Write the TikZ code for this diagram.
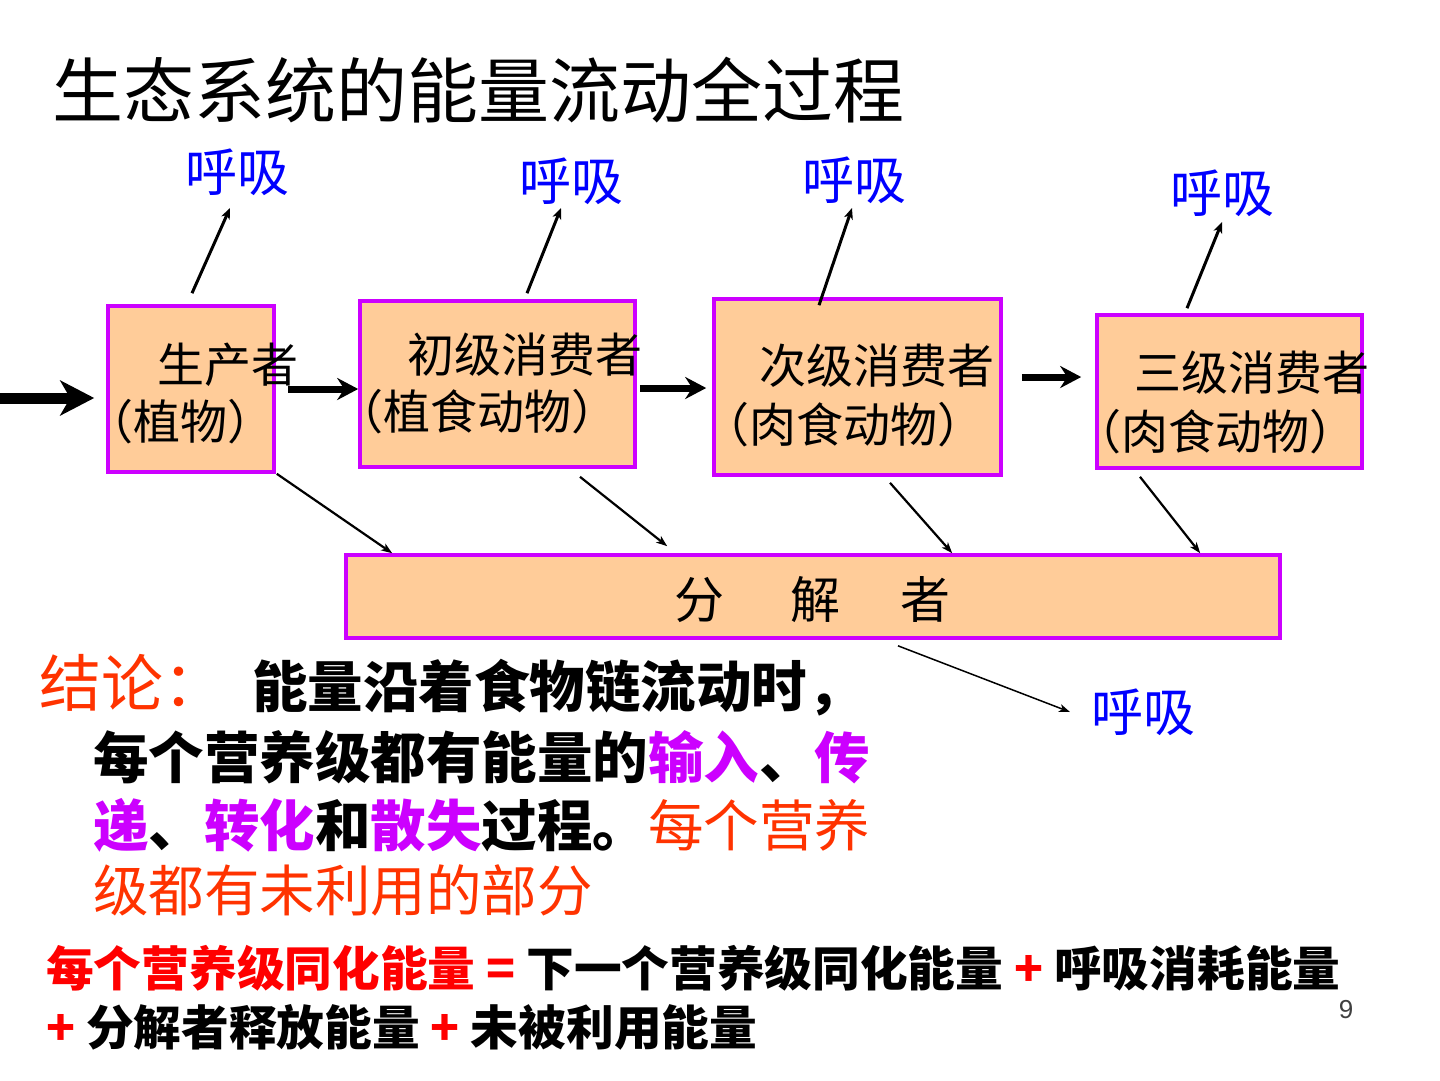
\documentclass[tikz,border=0pt]{standalone}
\usepackage{fontspec}
\setmainfont{Noto Sans CJK SC}
\newfontfamily\latinfont{Liberation Sans}
\usetikzlibrary{arrows.meta,calc}
\definecolor{peach}{RGB}{255,204,153}
\definecolor{boxedge}{RGB}{204,0,255}
\definecolor{pv}{RGB}{204,0,255}
\definecolor{orred}{RGB}{255,51,0}
\definecolor{respblue}{RGB}{0,0,255}
\definecolor{eqred}{RGB}{255,0,0}
\newcommand{\fsz}[1]{\fontsize{#1pt}{#1pt}\selectfont}
\begin{document}
\begin{tikzpicture}[x=1pt,y=-1pt,
  box/.style={draw=boxedge,fill=peach,line width=3.6pt,inner sep=0pt},
  boxtxt/.style={inner sep=0pt,anchor=west,font=\fsz{47}},
  resp/.style={inner sep=0pt,text=respblue,font=\fsz{52}},
  bigarrow/.style={line width=11pt,-{Stealth[length=34pt,width=35pt,inset=10pt]}},
  midarrow/.style={line width=7pt,-{Stealth[length=21pt,width=22pt,inset=7pt]}},
  uparrow/.style={line width=3pt,-{Stealth[length=11pt,width=9pt,inset=3pt]}},
  downarrow/.style={line width=2.2pt,-{Stealth[length=11pt,width=8pt,inset=3pt]}},
  ctext/.style={inner sep=0pt,anchor=west,font=\fsz{55.5}},
  btext/.style={inner sep=0pt,anchor=west,font=\fsz{47.7}\bfseries}]
\useasboundingbox (0,0) rectangle (1440,1080);

% title
\node[inner sep=0pt,anchor=west,font=\fsz{71}] (title) at (52,90) {生态系统的能量流动全过程};

% boxes
\node[box,minimum width=166pt,minimum height=166pt] (b1) at (191,389) {};
\node[box,minimum width=275pt,minimum height=166pt] (b2) at (497.5,384) {};
\node[box,minimum width=287pt,minimum height=176pt] (b3) at (857.5,387) {};
\node[box,minimum width=265pt,minimum height=153pt] (b4) at (1229.5,391.5) {};
\node[box,minimum width=934pt,minimum height=83pt] (dec) at (813,596.5) {};

% box texts
\node[boxtxt] (t1a) at (157,365) {生产者};
\node[boxtxt] (t1b) at (86,422) {（植物）};
\node[boxtxt] (t2a) at (407,355) {初级消费者};
\node[boxtxt] (t2b) at (336,412) {（植食动物）};
\node[boxtxt] (t3a) at (759,366) {次级消费者};
\node[boxtxt] (t3b) at (702,425) {（肉食动物）};
\node[boxtxt] (t4a) at (1134,373) {三级消费者};
\node[boxtxt] (t4b) at (1074,432) {（肉食动物）};
\node[inner sep=0pt,font=\fsz{50}] (dect) at (812,600) {分\hspace{66pt}解\hspace{60pt}者};

% respiration labels
\node[resp] (r1) at (237,172) {呼吸};
\node[resp] (r2) at (571,181) {呼吸};
\node[resp] (r3) at (854,180) {呼吸};
\node[resp] (r4) at (1222,193) {呼吸};
\node[resp] (r5) at (1143,712) {呼吸};

% energy input and chain arrows
\coordinate (src) at (0,398);
\draw[bigarrow] (src) -- ($(b1.west)+(-12,9)$);
\draw[midarrow] ($(b1.east)+(12,0)$) -- ($(b2.west)+(0,5)$);
\draw[midarrow] ($(b2.east)+(3,4)$) -- ($(b3.west)+(-6,1)$);
\draw[midarrow] ($(b3.east)+(19,-10)$) -- ($(b4.west)+(-14,-14.5)$);

% respiration arrows
\draw[uparrow] ($(b1.north)+(1,-11)$) -- ($(r1.center)+(-7,36)$);
\draw[uparrow] ($(b2.north)+(29.5,-6)$) -- ($(r2.center)+(-10,27)$);
\draw[uparrow] ($(b3.north)+(-38.5,8)$) -- ($(r3.center)+(-2,28)$);
\draw[uparrow] ($(b4.north)+(-42.5,-5)$) -- ($(r4.center)+(0,29)$);

% to decomposer
\draw[downarrow] ($(b1.south east)+(1,0)$) -- ($(dec.north west)+(48,0)$);
\draw[downarrow] ($(b2.south)+(82.5,8)$) -- ($(dec.north west)+(323,-7)$);
\draw[downarrow] ($(b3.south)+(32.5,6)$) -- ($(dec.north west)+(608,0)$);
\draw[downarrow] ($(b4.south)+(-89.5,7)$) -- ($(dec.north west)+(856,0)$);
\draw[line width=1.5pt,-{Stealth[length=11pt,width=8pt,inset=3pt]}] ($(dec.south)+(85,6)$) -- ($(r5.center)+(-73,0)$);

% conclusion
\node[inner sep=0pt,anchor=west,font=\fsz{62},text=orred] (concl) at (39,683) {结论：};
\node[ctext,font=\fsz{55.5}\bfseries] (c1) at (252,688) {能量沿着食物链流动时，};
\node[ctext,font=\fsz{55.5}\bfseries] (c2) at (93,757) {每个营养级都有能量的\textcolor{pv}{输入}、\textcolor{pv}{传}};
\node[ctext,font=\fsz{55.5}\bfseries] (c3) at (93,825) {\textcolor{pv}{递}、\textcolor{pv}{转化}和\textcolor{pv}{散失}过程。{\mdseries\color{orred}每个营养}};
\node[ctext,text=orred] (c4) at (93,890) {级都有未利用的部分};

% equation
\node[btext] (e1) at (46,968) {\textcolor{eqred}{每个营养级同化能量\ =}\ 下一个营养级同化能量\ \textcolor{eqred}{+}\ 呼吸消耗能量};
\node[btext] (e2) at (46,1027) {\textcolor{eqred}{+}\ 分解者释放能量\ \textcolor{eqred}{+}\ 未被利用能量};

\node[inner sep=0pt,font=\latinfont\fsz{26},text=black!75] (pg) at (1346,1010) {9};
\end{tikzpicture}
\end{document}
